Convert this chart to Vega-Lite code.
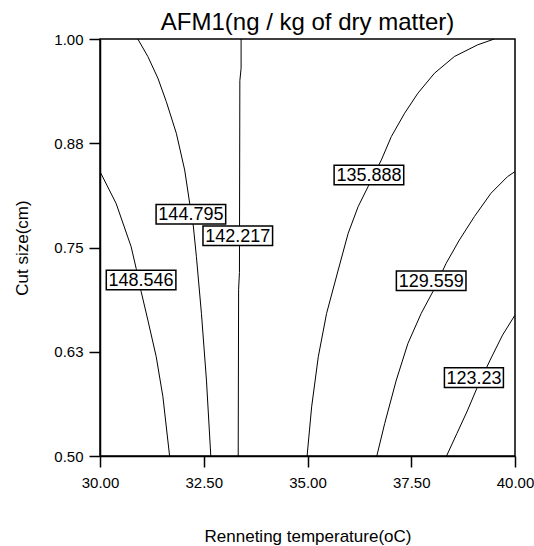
{
  "$schema": "https://vega.github.io/schema/vega-lite/v6.json",
  "width": 415,
  "height": 417,
  "autosize": {"type": "none"},
  "padding": {"left": 100, "top": 39, "right": 19, "bottom": 90},
  "background": "white",
  "title": {
    "text": "AFM1(ng / kg of dry matter)",
    "font": "Liberation Sans",
    "fontSize": 24,
    "fontWeight": "normal",
    "color": "black",
    "anchor": "middle",
    "baseline": "alphabetic",
    "offset": -22
  },
  "config": {
    "view": {"stroke": "black", "strokeWidth": 1.5},
    "axis": {
      "domainColor": "black",
      "domainWidth": 1.5,
      "tickColor": "black",
      "tickWidth": 1.5,
      "tickSize": 11,
      "grid": false,
      "labelFlush": false,
      "labelFont": "Liberation Sans",
      "labelFontSize": 15,
      "labelColor": "black",
      "titleFont": "Liberation Sans",
      "titleFontSize": 17,
      "titleFontWeight": "normal",
      "titleColor": "black"
    }
  },
  "datasets": {
    "contours": [
      {"c": "148.546", "x": 30.0, "y": 0.841},
      {"c": "148.546", "x": 30.387, "y": 0.803},
      {"c": "148.546", "x": 30.75, "y": 0.751},
      {"c": "148.546", "x": 30.871, "y": 0.725},
      {"c": "148.546", "x": 30.992, "y": 0.697},
      {"c": "148.546", "x": 31.153, "y": 0.663},
      {"c": "148.546", "x": 31.355, "y": 0.619},
      {"c": "148.546", "x": 31.516, "y": 0.571},
      {"c": "148.546", "x": 31.677, "y": 0.5},
      {"c": "144.795", "x": 30.911, "y": 1.0},
      {"c": "144.795", "x": 31.153, "y": 0.979},
      {"c": "144.795", "x": 31.395, "y": 0.953},
      {"c": "144.795", "x": 31.597, "y": 0.925},
      {"c": "144.795", "x": 31.839, "y": 0.887},
      {"c": "144.795", "x": 32.04, "y": 0.843},
      {"c": "144.795", "x": 32.161, "y": 0.803},
      {"c": "144.795", "x": 32.242, "y": 0.779},
      {"c": "144.795", "x": 32.323, "y": 0.739},
      {"c": "144.795", "x": 32.444, "y": 0.671},
      {"c": "144.795", "x": 32.565, "y": 0.591},
      {"c": "144.795", "x": 32.67, "y": 0.5},
      {"c": "142.217", "x": 33.4, "y": 1.0},
      {"c": "142.217", "x": 33.4, "y": 0.965},
      {"c": "142.217", "x": 33.37, "y": 0.95},
      {"c": "142.217", "x": 33.36, "y": 0.72},
      {"c": "142.217", "x": 33.34, "y": 0.70},
      {"c": "142.217", "x": 33.33, "y": 0.5},
      {"c": "135.888", "x": 34.99, "y": 0.5},
      {"c": "135.888", "x": 35.1, "y": 0.559},
      {"c": "135.888", "x": 35.26, "y": 0.619},
      {"c": "135.888", "x": 35.46, "y": 0.671},
      {"c": "135.888", "x": 35.74, "y": 0.723},
      {"c": "135.888", "x": 35.98, "y": 0.767},
      {"c": "135.888", "x": 36.22, "y": 0.799},
      {"c": "135.888", "x": 36.46, "y": 0.823},
      {"c": "135.888", "x": 36.78, "y": 0.855},
      {"c": "135.888", "x": 37.02, "y": 0.883},
      {"c": "135.888", "x": 37.34, "y": 0.911},
      {"c": "135.888", "x": 37.66, "y": 0.935},
      {"c": "135.888", "x": 38.06, "y": 0.959},
      {"c": "135.888", "x": 38.54, "y": 0.979},
      {"c": "135.888", "x": 39.1, "y": 0.993},
      {"c": "135.888", "x": 39.5, "y": 1.0},
      {"c": "129.559", "x": 36.67, "y": 0.5},
      {"c": "129.559", "x": 36.86, "y": 0.539},
      {"c": "129.559", "x": 37.14, "y": 0.591},
      {"c": "129.559", "x": 37.42, "y": 0.635},
      {"c": "129.559", "x": 37.74, "y": 0.671},
      {"c": "129.559", "x": 38.02, "y": 0.697},
      {"c": "129.559", "x": 38.34, "y": 0.731},
      {"c": "129.559", "x": 38.66, "y": 0.759},
      {"c": "129.559", "x": 39.02, "y": 0.787},
      {"c": "129.559", "x": 39.42, "y": 0.815},
      {"c": "129.559", "x": 39.82, "y": 0.835},
      {"c": "129.559", "x": 40.0, "y": 0.841},
      {"c": "123.23", "x": 38.35, "y": 0.5},
      {"c": "123.23", "x": 38.6, "y": 0.527},
      {"c": "123.23", "x": 38.85, "y": 0.554},
      {"c": "123.23", "x": 39.08, "y": 0.581},
      {"c": "123.23", "x": 39.4, "y": 0.615},
      {"c": "123.23", "x": 39.7, "y": 0.645},
      {"c": "123.23", "x": 40.0, "y": 0.669}
    ],
    "labels": [
      {"label": "148.546", "x": 30.99, "y": 0.711},
      {"label": "144.795", "x": 32.19, "y": 0.790},
      {"label": "142.217", "x": 33.32, "y": 0.764},
      {"label": "135.888", "x": 36.48, "y": 0.837},
      {"label": "129.559", "x": 37.98, "y": 0.710},
      {"label": "123.23", "x": 39.01, "y": 0.594}
    ]
  },
  "encoding": {
    "x": {
      "field": "x", "type": "quantitative",
      "scale": {"domain": [30, 40], "nice": false, "zero": false},
      "axis": {"values": [30, 32.5, 35, 37.5, 40], "format": ".2f", "labelPadding": 8, "title": "Renneting temperature(oC)", "titlePadding": 38}
    },
    "y": {
      "field": "y", "type": "quantitative",
      "scale": {"domain": [0.5, 1], "nice": false, "zero": false},
      "axis": {"values": [0.5, 0.625, 0.75, 0.875, 1], "format": ".2f", "labelPadding": 6, "title": "Cut size(cm)", "titlePadding": 22}
    }
  },
  "layer": [
    {
      "data": {"name": "contours"},
      "mark": {"type": "line", "color": "black", "strokeWidth": 1, "clip": true},
      "encoding": {
        "detail": {"field": "c"},
        "order": {"field": "y", "type": "quantitative"}
      }
    },
    {
      "data": {"name": "labels"},
      "transform": [{"filter": "length(datum.label) == 7"}],
      "mark": {"type": "point", "shape": "M-1,-0.28L1,-0.28L1,0.28L-1,0.28Z", "size": 4844, "filled": true, "fill": "white", "stroke": "black", "strokeWidth": 1.5, "opacity": 1}
    },
    {
      "data": {"name": "labels"},
      "transform": [{"filter": "length(datum.label) == 6"}],
      "mark": {"type": "point", "shape": "M-1,-0.333L1,-0.333L1,0.333L-1,0.333Z", "size": 3481, "filled": true, "fill": "white", "stroke": "black", "strokeWidth": 1.5, "opacity": 1}
    },
    {
      "data": {"name": "labels"},
      "mark": {"type": "text", "font": "Liberation Sans", "fontSize": 18, "color": "black", "align": "center", "baseline": "middle", "dy": 1},
      "encoding": {"text": {"field": "label"}}
    }
  ]
}
